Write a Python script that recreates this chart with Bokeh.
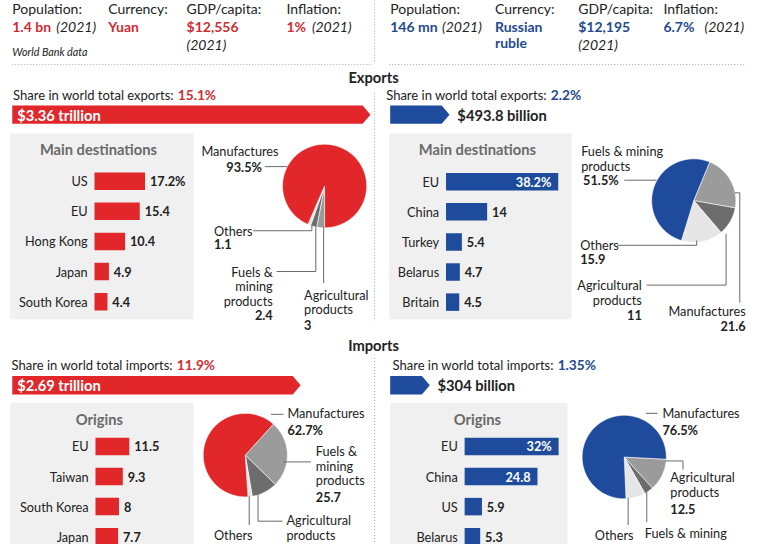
import numpy as np
from bokeh.plotting import figure
from bokeh.models import Range1d
from bokeh.embed import file_html
from bokeh.resources import INLINE
from bokeh.core.properties import value

# ---------------- data ----------------
stat_titles = ["Population:", "Currency:", "GDP/capita:", "Inflation:"]
china_stats = ["1.4 bn", "Yuan", "$12,556", "1%"]
russia_stats = ["146 mn", "Russian", "$12,195", "6.7%"]
stat_year = "(2021)"
russia_currency_2 = "ruble"
source_note = "World Bank data"

share_exports = [15.1, 2.2]          # China, Russia (%)
share_imports = [11.9, 1.35]
exports_total = [3.36, 0.4938]       # trillion $
imports_total = [2.69, 0.304]
exports_total_lbl = ["$3.36 trillion", "$493.8 billion"]
imports_total_lbl = ["$2.69 trillion", "$304 billion"]

china_dest = ["US", "EU", "Hong Kong", "Japan", "South Korea"]
china_dest_vals = [17.2, 15.4, 10.4, 4.9, 4.4]
russia_dest = ["EU", "China", "Turkey", "Belarus", "Britain"]
russia_dest_vals = [38.2, 14, 5.4, 4.7, 4.5]
china_orig = ["EU", "Taiwan", "South Korea", "Japan"]
china_orig_vals = [11.5, 9.3, 8, 7.7]
russia_orig = ["EU", "China", "US", "Belarus"]
russia_orig_vals = [32, 24.8, 5.9, 5.3]

# pie slices, listed clockwise from the start angle
china_exp_cats = ["Agricultural products", "Fuels & mining products", "Others", "Manufactures"]
china_exp_vals = [3, 2.4, 1.1, 93.5]
russia_exp_cats = ["Manufactures", "Agricultural products", "Others", "Fuels & mining products"]
russia_exp_vals = [21.6, 11, 15.9, 51.5]
china_imp_cats = ["Fuels & mining products", "Agricultural products", "Others", "Manufactures"]
china_imp_vals = [25.7, 10.0, 1.6, 62.7]
russia_imp_cats = ["Agricultural products", "Fuels & mining products", "Others", "Manufactures"]
russia_imp_vals = [12.5, 3.5, 7.5, 76.5]

# ---------------- style ----------------
FONT = "Lato"
RED = "#e2272b"
BLUE = "#1f4b9c"
RED_T = "#cf2c34"
BLUE_T = "#234a90"
INK = "#222222"
BOXC = "#f0f0f0"
BOXT = "#6a6a6a"
MID, DARK, LIGHT = "#9b9b9b", "#6d6d6d", "#e6e6e6"
LEAD = "#6a6a6a"
DOT = "#a0a0a0"
BAR_K = 3.0        # px per percentage point
ARROW_K = 106.5    # px per trillion $
ROW = 31

W, H = 768, 560
PW, PH = 752, 544
S = PW / W

p = figure(width=PW, height=PH, x_range=Range1d(0, W), y_range=Range1d(H, 0),
           output_backend="svg", toolbar_location=None, min_border=0)
p.xaxis.visible = False
p.yaxis.visible = False
p.grid.visible = False
p.outline_line_color = None
p.background_fill_color = "white"


def T(x, y, s, size=13, color=INK, style="normal", align="left"):
    p.text(x=[x], y=[y], text=[s], text_font=value(FONT),
           text_font_size=value(f"{size * S:.2f}px"),
           text_color=color, text_font_style=style, text_align=align, text_baseline="middle")


def dotted(xs, ys):
    p.line(xs, ys, line_color=DOT, line_width=1, line_dash="1 2")


def fmt(v):
    return "%g" % v


def arrow(x0, yc, val, color):
    body = val * ARROW_K
    h = 19
    xs = [x0, x0 + body, x0 + body + 8, x0 + body, x0]
    ys = [yc - h / 2, yc - h / 2, yc, yc + h / 2, yc + h / 2]
    p.patch(xs, ys, fill_color=color, line_color=None)
    return x0 + body + 8


def bars(x0, y0, cats, vals, color, first_pct=True):
    ys = [y0 + i * ROW for i in range(len(cats))]
    rights = [x0 + v * BAR_K for v in vals]
    p.hbar(y=ys, left=x0, right=rights, height=18, fill_color=color, line_color=None)
    for i, (c, v, y, r) in enumerate(zip(cats, vals, ys, rights)):
        T(x0 - 7, y, c, 13, INK, align="right")
        lab = fmt(v) + ("%" if (i == 0 and first_pct) else "")
        if v > 20:
            T(r - 7, y, lab, 13, "white", "bold", "right")
        else:
            T(r + 5, y, lab, 13, INK, "bold")


def pie(cx, cy, r, vals, colors, start_deg):
    total = float(sum(vals))
    xs, ys = [], []
    a = start_deg
    for v in vals:
        span = v / total * 360.0
        angs = np.radians(np.linspace(a, a - span, max(4, int(span / 2) + 2)))
        xs.append([cx] + list(cx + r * np.cos(angs)))
        ys.append([cy] + list(cy - r * np.sin(angs)))
        a -= span
    p.patches(xs, ys, fill_color=colors, line_color="white", line_width=0.6)


def leaders(paths):
    p.multi_line([[q[0] for q in pth] for pth in paths], [[q[1] for q in pth] for pth in paths],
                 line_color=LEAD, line_width=1)


def share_line(xj, y, lead, val, col):
    T(xj - 4, y, lead, 13.3, INK, align="right")
    T(xj, y, fmt(val) + "%", 14, col, "bold")


# ---------------- header stats ----------------
CH_X = [12, 110, 190, 292]
RU_X = [398, 505, 590, 677]
for i, t in enumerate(stat_titles):
    T(CH_X[i], 8, t, 14.3, INK)
    T(RU_X[i], 8, t, 14.3, INK)
    T(CH_X[i], 27, china_stats[i], 14.3, RED_T, "bold")
    T(RU_X[i], 27, russia_stats[i], 14.3, BLUE_T, "bold")
T(57, 27, stat_year, 14.3, INK, "italic")
T(318, 27, stat_year, 14.3, INK, "italic")
T(190, 45, stat_year, 14.3, INK, "italic")
T(451, 27, stat_year, 14.3, INK, "italic")
T(719, 27, stat_year, 14.3, INK, "italic")
T(590, 45, stat_year, 14.3, INK, "italic")
T(505, 43, russia_currency_2, 14.3, BLUE_T, "bold")
T(12, 52, source_note, 11, INK, "italic")

dotted([12, 380], [66, 66])
dotted([397, 760], [66, 66])
dotted([382, 382], [0, 64])
dotted([382, 382], [95, 330])
dotted([382, 382], [368, 560])

# ---------------- exports ----------------
T(381, 79, "Exports", 15, INK, "bold", "center")
share_line(181, 97, "Share in world total exports:", share_exports[0], RED_T)
share_line(562, 97, "Share in world total exports:", share_exports[1], BLUE_T)

arrow(12, 117.5, exports_total[0], RED)
T(17, 118, exports_total_lbl[0], 15, "white", "bold")
end = arrow(398, 117.5, exports_total[1], BLUE)
T(end + 8, 118, exports_total_lbl[1], 15, INK, "bold")

p.quad(left=[10, 397], right=[197, 583], top=[137, 137], bottom=[328, 328],
       fill_color=BOXC, line_color=None)
T(100, 153, "Main destinations", 15, BOXT, "bold", "center")
T(487, 153, "Main destinations", 15, BOXT, "bold", "center")
bars(96, 186, china_dest, china_dest_vals, RED)
bars(455, 186.5, russia_dest, russia_dest_vals, BLUE)

# China exports pie
pie(331, 191, 43, china_exp_vals, [MID, DARK, LIGHT, RED], -90)
T(284, 155, "Manufactures", 13, INK, align="right")
T(267, 171, "93.5%", 13, INK, "bold", "right")
T(218, 237, "Others", 13)
T(218, 251, "1.1", 13, INK, "bold")
T(278, 279, "Fuels &", 13, align="right")
T(278, 294, "mining", 13, align="right")
T(278, 309, "products", 13, align="right")
T(278, 324, "2.4", 13, INK, "bold", "right")
T(310, 303, "Agricultural", 13)
T(310, 318, "products", 13)
T(310, 334, "3", 13, INK, "bold")
leaders([[(270, 171), (293, 171)],
         [(258, 237), (318, 237), (318, 231)],
         [(282, 279), (322, 279), (322, 232)],
         [(330, 233), (330, 291)]])

# Russia exports pie
pie(708, 206, 43, russia_exp_vals, [MID, DARK, LIGHT, BLUE], 67.7)
T(593, 155, "Fuels & mining", 13)
T(593, 170, "products", 13)
T(595, 185, "51.5%", 13, INK, "bold")
T(592, 252, "Others", 13)
T(592, 266, "15.9", 13, INK, "bold")
T(655, 293, "Agricultural", 13, align="right")
T(655, 308, "products", 13, align="right")
T(655, 324, "11", 13, INK, "bold", "right")
T(761, 320, "Manufactures", 13, align="right")
T(761, 335, "21.6", 13, INK, "bold", "right")
leaders([[(637, 185), (670, 185)],
         [(630, 252), (711, 252), (711, 247)],
         [(660, 293), (741, 293), (741, 240)],
         [(750, 198), (755, 198), (755, 311)]])

# ---------------- imports ----------------
T(381, 355, "Imports", 15, INK, "bold", "center")
share_line(180, 375, "Share in world total imports:", share_imports[0], RED_T)
share_line(569, 375, "Share in world total imports:", share_imports[1], BLUE_T)

arrow(12, 396, imports_total[0], RED)
T(17, 396.5, imports_total_lbl[0], 15, "white", "bold")
end = arrow(398, 396, imports_total[1], BLUE)
T(end + 8, 396.5, imports_total_lbl[1], 15, INK, "bold")

p.quad(left=[10, 398], right=[197, 579], top=[414, 414], bottom=[560, 560],
       fill_color=BOXC, line_color=None)
T(101, 431, "Origins", 15, BOXT, "bold", "center")
T(487, 431, "Origins", 15, BOXT, "bold", "center")
bars(97, 459, china_orig, china_orig_vals, RED, first_pct=False)
bars(474, 459, russia_orig, russia_orig_vals, BLUE)

# China imports pie
pie(250, 468, 43, china_imp_vals, [MID, DARK, LIGHT, RED], 48)
T(293, 425, "Manufactures", 13)
T(293, 442, "62.7%", 13, INK, "bold")
T(322, 464, "Fuels &", 13)
T(322, 479, "mining", 13)
T(322, 494, "products", 13)
T(322, 511, "25.7", 13, INK, "bold")
T(292, 535, "Agricultural", 13)
T(292, 550, "products", 13)
T(218, 550, "Others", 13)
leaders([[(276, 426), (289, 426)],
         [(289, 475), (317, 475)],
         [(263, 507), (263, 536), (288, 536)],
         [(254, 510), (254, 540)]])

# Russia imports pie
pie(637, 470, 43, russia_imp_vals, [MID, DARK, LIGHT, BLUE], -3)
T(676, 425, "Manufactures", 13)
T(676, 442, "76.5%", 13, INK, "bold")
T(684, 490, "Agricultural", 13)
T(684, 506, "products", 13)
T(684, 523, "12.5", 13, INK, "bold")
T(658, 548, "Fuels & mining", 13)
T(607, 550, "Others", 13)
leaders([[(659, 425), (671, 425)],
         [(679, 474), (697, 474), (697, 483)],
         [(660, 503), (660, 537)],
         [(641, 512), (641, 540)]])

open("out.html", "w").write(file_html(p, INLINE))
